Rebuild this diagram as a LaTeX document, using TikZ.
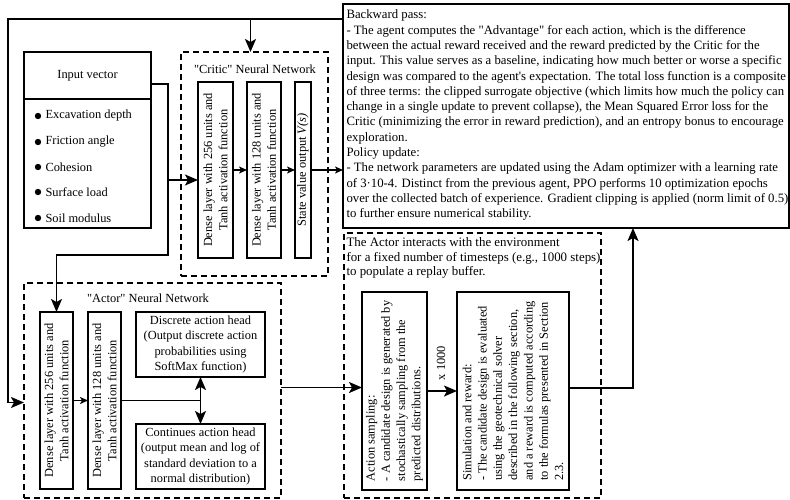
\documentclass[tikz,border=0pt]{standalone}
\usepackage{fontspec}
\setmainfont{Liberation Serif}
\usetikzlibrary{arrows.meta}
\begin{document}
\begin{tikzpicture}[x=1pt,y=-1pt,
  every node/.style={font=\fontsize{12.4}{15.3}\selectfont, inner sep=0pt, outer sep=0pt},
  box/.style={draw, line width=1.6pt, anchor=north west},
  dbox/.style={draw, line width=1.5pt, dash pattern=on 6pt off 4pt, anchor=north west},
  conn/.style={line width=1.8pt},
  big/.style={conn, -{Stealth[length=13pt,width=11pt,inset=3pt]}},
  sml/.style={conn, -{Stealth[length=8pt,width=7pt,inset=2pt]}},
  rtext/.style={rotate=90, align=center},
  ltext/.style={rotate=90, align=left},
]
\useasboundingbox (0,0) rectangle (790,500);

% Input vector
\node[box, minimum width=127pt, minimum height=176pt] (inp) at (24,52) {};
\draw[line width=1.6pt] (inp.west |- 0,99) -- (inp.east |- 0,99);
\node (inpt) at (87.5,76) {Input vector};
\foreach \yy/\tt in {116/Excavation depth,142/Friction angle,167/Cohesion,192/Surface load,218/Soil modulus}{
  \fill (38,\yy) circle (3.2pt);
  \node[anchor=west] at (45.5,\yy) {\tt};
}

% Critic
\node[dbox, minimum width=147pt, minimum height=224pt] (critic) at (181,52) {};
\node (critict) at (255,69) {\textquotedbl Critic\textquotedbl{} Neural Network};
\node[box, minimum width=35pt, minimum height=176pt] (cl1) at (198,82) {};
\node[box, minimum width=34pt, minimum height=176pt] (cl2) at (247,82) {};
\node[box, minimum width=16pt, minimum height=176pt] (cl3) at (295,82) {};
\node[rtext] (cl1t) at (cl1.center) {Dense layer with 256 units and\\Tanh activation function};
\node[rtext] (cl2t) at (cl2.center) {Dense layer with 128 units and\\Tanh activation function};
\node[rtext] (cl3t) at (cl3.center) {State value output \textit{V(s)}};

% Backward pass
\node[box, minimum width=446pt, minimum height=224pt] (back) at (343,4) {};
\node[anchor=north west, align=left, font=\fontsize{12.75}{15.3}\selectfont] (backt) at (346.5,10) {Backward pass:\\
- The agent computes the \textquotedbl Advantage\textquotedbl{} for each action, which is the difference\\
between the actual reward received and the reward predicted by the Critic for the\\
input. This value serves as a baseline, indicating how much better or worse a specific\\
design was compared to the agent\textquotesingle s expectation. The total loss function is a composite\\
of three terms: the clipped surrogate objective (which limits how much the policy can\\
change in a single update to prevent collapse), the Mean Squared Error loss for the\\
Critic (minimizing the error in reward prediction), and an entropy bonus to encourage\\
exploration.\\
Policy update:\\
- The network parameters are updated using the Adam optimizer with a learning rate\\
of 3·10-4. Distinct from the previous agent, PPO performs 10 optimization epochs\\
over the collected batch of experience. Gradient clipping is applied (norm limit of 0.5)\\
to further ensure numerical stability.};

% Environment interaction
\node[dbox, minimum width=257pt, minimum height=265pt] (env) at (344,233) {};
\node[anchor=north west, align=left, font=\fontsize{12.9}{14.6}\selectfont] (envt) at (346.5,237.5) {The Actor interacts with the environment\\
for a fixed number of timesteps (e.g., 1000 steps)\\
to populate a replay buffer.};
\node[box, minimum width=65pt, minimum height=198pt] (as) at (362,292) {};
\node[box, minimum width=112pt, minimum height=198pt] (sim) at (457,292) {};
\node[ltext] (ast) at (as.center) {Action sampling:\\- A candidate design is generated by\\stochastically sampling from the\\predicted distributions.};
\node[ltext] (simt) at (sim.center) {Simulation and reward:\\- The candidate design is evaluated\\using the geotechnical solver\\described in the following section,\\and a reward is computed according\\to the formulas presented in Section\\2.3.};
\node[rotate=90] (xk) at (441,363) {x 1000};

% Actor
\node[dbox, minimum width=257pt, minimum height=215pt] (actor) at (24,283) {};
\node (actort) at (148,298) {\textquotedbl Actor\textquotedbl{} Neural Network};
\node[box, minimum width=33pt, minimum height=177pt] (al1) at (40,312) {};
\node[box, minimum width=33pt, minimum height=177pt] (al2) at (88,312) {};
\node[rtext] (al1t) at (al1.center) {Dense layer with 256 units and\\Tanh activation function};
\node[rtext] (al2t) at (al2.center) {Dense layer with 128 units and\\Tanh activation function};
\node[box, minimum width=129pt, minimum height=65pt] (disc) at (136,312) {};
\node[align=center] (disct) at (disc.center) {Discrete action head\\(Output discrete action\\probabilities using\\SoftMax function)};
\node[box, minimum width=129pt, minimum height=65pt] (cont) at (136,424) {};
\node[align=center] (contt) at (cont.center) {Continues action head\\(output mean and log of\\standard deviation to a\\normal distribution)};

% Connectors
\coordinate (tl) at (8,19);
\draw[big] (back.west |- tl) -- (tl) |- ([yshift=-12pt]actor.west);
\draw[big] ([xshift=-4pt]critic.north |- tl) -- ([xshift=-4pt]critic.north);
\coordinate (j1) at (168,84);
\coordinate (j2) at (168,180);
\coordinate (j3) at (168,255);
\draw[big] (inp.east |- j1) -- (j1) -- (j2) -- (cl1.west |- j2);
\draw[big] (j2) -- (j3) -| (al1.north);
\draw[sml] (cl1.east) -- (cl2.west);
\draw[sml] (cl2.east) -- (cl3.west);
\draw[sml] (cl3.east) -- (cl3.east -| back.west);
\draw[sml] (al1.east) -- (al2.west);
\draw[conn] (al2.east) -- (al2.east -| disc.south);
\draw[conn, {Stealth[length=13pt,width=11pt,inset=3pt]}-{Stealth[length=13pt,width=11pt,inset=3pt]}] (disc.south) -- (cont.north);
\draw[big] ([yshift=3pt]actor.east) -- ([yshift=3pt]actor.east -| as.west);
\draw[big] (as.east) -- (sim.west);
\coordinate (up) at (633,228);
\draw[big] ([yshift=3pt]sim.east) -| (back.south -| up);
\end{tikzpicture}
\end{document}
